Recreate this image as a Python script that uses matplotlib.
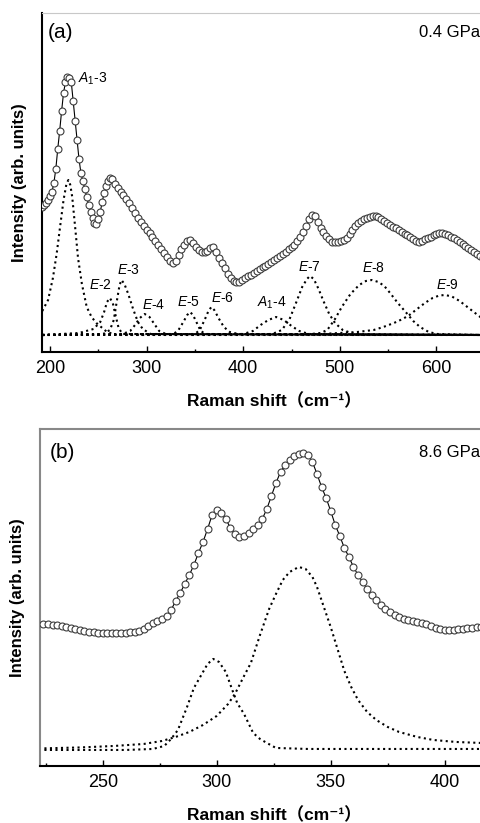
import matplotlib
matplotlib.use('Agg')
import matplotlib.pyplot as plt

plt.rcParams['font.family'] = ['Liberation Sans', 'Noto Sans CJK SC', 'DejaVu Sans']
plt.rcParams['mathtext.fontset'] = 'custom'
plt.rcParams['mathtext.rm'] = 'Liberation Sans'
plt.rcParams['mathtext.it'] = 'Liberation Sans:italic'

shift_a = [192, 194, 196, 198, 200, 202, 204, 206, 208, 210, 212, 214, 216, 218, 220, 222,
           224, 226, 228, 230, 232, 234, 236, 238, 240, 242, 244, 246, 248, 250, 252, 254,
           256, 258, 260, 262, 264,
           267, 270, 273, 276, 279, 282, 285, 288, 291, 294, 297, 300, 303, 306, 309, 312,
           315, 318, 321, 324, 327, 330, 333, 336, 339, 342, 345, 348, 351, 354, 357, 360,
           363, 366, 369, 372, 375, 378, 381, 384, 387, 390, 393, 396, 399, 402, 405, 408,
           411, 414, 417, 420, 423, 426, 429, 432, 435, 438, 441, 444, 447, 450, 453, 456,
           459, 462, 465, 468, 471, 474, 477, 480, 483, 486, 489, 492, 495, 498, 501, 504,
           507, 510, 513, 516, 519, 522, 525, 528, 531, 534, 537, 540, 543, 546, 549, 552,
           555, 558, 561, 564, 567, 570, 573, 576, 579, 582, 585, 588, 591, 594, 597, 600,
           603, 606, 609, 612, 615, 618, 621, 624, 627, 630, 633, 636, 639, 642, 645, 648]
int_a = [145, 147, 149, 152, 156, 160, 169, 183, 203, 221, 241, 259, 270, 275, 274, 270,
         251, 231, 212, 193, 179, 171, 163, 155, 147, 140, 134, 129, 128, 133, 140, 150,
         159, 166, 171, 174, 173,
         168, 164, 160, 157, 153, 149, 144, 139, 134, 130, 126, 122, 119, 115, 111, 107,
         103, 99, 95, 91, 89, 91, 97, 103, 107, 111, 112, 109, 105, 102, 100, 100,
         101, 104, 105, 100, 94, 89, 84, 78, 74, 71, 70, 70, 72, 74, 76, 77,
         79, 81, 83, 85, 86, 88, 90, 92, 94, 96, 98, 100, 103, 105, 107, 111,
         115, 120, 126, 133, 137, 136, 130, 124, 120, 116, 113, 110, 110, 110, 111, 112,
         114, 118, 122, 126, 129, 131, 133, 134, 135, 136, 136, 135, 133, 131, 129, 127,
         125, 124, 122, 120, 118, 117, 115, 113, 111, 110, 111, 113, 114, 115, 117, 118,
         119, 119, 118, 117, 115, 114, 112, 110, 108, 106, 104, 102, 100, 98, 96, 94]

# fitted components (a)
a13_x = [192, 198, 203, 207, 210, 214, 217, 219, 221, 223, 226, 229, 233, 238, 243, 248, 259, 269, 648]
a13_y = [41, 52, 74, 99, 122, 152, 168, 172, 167, 155, 125, 94, 68, 45, 35, 29, 20, 17, 17]
e2_x = [192, 230, 245, 252, 256, 259, 262, 265, 268, 271, 275, 648]
e2_y = [17, 19, 23, 30, 40, 50, 54, 49, 36, 24, 18, 17]
e3_x = [192, 255, 262, 266, 269, 272, 274, 277, 281, 286, 291, 296, 304, 648]
e3_y = [17, 18, 22, 32, 50, 67, 72, 68, 58, 43, 30, 23, 18, 17]
e4_x = [192, 275, 283, 288, 293, 298, 303, 308, 313, 320, 648]
e4_y = [17, 18, 21, 27, 34, 38, 35, 28, 21, 18, 17]
e5_x = [192, 328, 333, 338, 342, 345, 348, 352, 356, 361, 648]
e5_y = [17, 18, 22, 30, 37, 40, 37, 29, 21, 18, 17]
e6_x = [192, 350, 355, 360, 364, 367, 370, 375, 380, 386, 395, 648]
e6_y = [17, 18, 22, 32, 41, 45, 42, 33, 25, 20, 18, 17]
a14_x = [192, 400, 410, 418, 426, 434, 442, 450, 458, 468, 648]
a14_y = [17, 18, 21, 27, 32, 35, 32, 26, 21, 18, 17]
e7_x = [192, 430, 440, 448, 455, 461, 466, 469, 473, 478, 483, 489, 495, 503, 515, 648]
e7_y = [17, 18, 22, 33, 50, 65, 73, 76, 73, 63, 51, 38, 29, 22, 18, 17]
e8_x = [192, 470, 480, 487, 495, 502, 511, 520, 527, 533, 540, 546, 552, 560, 569, 576, 583, 592, 601, 648]
e8_y = [17, 18, 19, 22, 33, 45, 58, 67, 71, 72, 70, 66, 59, 49, 39, 31, 25, 20, 18, 17]
e9_x = [192, 450, 480, 500, 518, 535, 545, 556, 565, 572, 580, 588, 596, 603, 609, 616, 624, 632, 640, 648]
e9_y = [17, 17.5, 18, 19, 20, 22, 25, 29, 33, 37, 43, 49, 54, 56.5, 57, 55.5, 51, 45, 39, 33]

comps_a = [(a13_x, a13_y), (e2_x, e2_y), (e3_x, e3_y), (e4_x, e4_y), (e5_x, e5_y),
           (e6_x, e6_y), (a14_x, a14_y), (e7_x, e7_y), (e8_x, e8_y), (e9_x, e9_y)]
labels_a = [r'$A_1$-3', r'$E$-2', r'$E$-3', r'$E$-4', r'$E$-5', r'$E$-6', r'$A_1$-4', r'$E$-7', r'$E$-8', r'$E$-9']
label_x_a = [229, 252, 281, 307, 343, 379, 430, 469, 535, 611]
label_y_a = [273, 67, 82, 47, 50, 54, 49, 85, 84, 67]

# ---- panel (b): 8.6 GPa ----
shift_b = list(range(224, 418, 2))
int_b = [142, 142, 141, 141, 140, 139, 138, 137, 136, 135, 134, 134, 133, 133, 133, 133,
         133, 133, 133, 134, 134, 135, 137, 140, 143, 145, 147, 150, 156, 165, 173, 182,
         191, 201, 213, 224, 237, 251, 256, 253, 247, 238, 232, 229, 230, 233, 237, 241,
         247, 257, 270, 283, 294, 301, 306, 310, 312, 313, 311, 304, 292, 279, 268, 255,
         241, 230, 218, 209, 199, 191, 184, 177, 171, 166, 161, 157, 154, 151, 149, 147,
         146, 145, 144, 143, 142, 140, 138, 137, 136, 136, 136, 137, 137, 138, 138, 139,
         139]

p1_x = [222, 260, 272, 277, 280, 283, 287, 290, 293, 296, 298.5, 301, 304, 307, 309, 312, 316, 319, 322, 326, 340, 428]
p1_y = [16, 16, 17, 20, 27, 36, 59, 78, 90, 102, 107, 104, 94, 75, 63, 52, 33, 27, 23, 18, 17, 17]
p2_x = [222, 240, 255, 268, 276, 282, 288, 294, 300, 305, 308, 312, 315, 319, 323, 326, 329, 332, 336,
        339, 342, 344, 347, 350, 353, 356, 359, 362, 366, 370, 375, 380, 388, 395, 405, 416, 428]
p2_y = [17.5, 18.5, 20, 22, 25, 29, 34, 41, 50, 62, 72, 90, 103, 131, 157, 172, 186, 194, 199,
        197, 189, 179, 159, 139, 117, 95, 79, 66, 54, 46, 39, 34, 29, 26, 24, 23, 22]

fig = plt.figure(figsize=(4.81, 8.23), dpi=100)
ax1 = fig.add_axes([0.0873, 0.5723, 0.9647, 0.4119])
ax2 = fig.add_axes([0.0832, 0.0693, 0.973, 0.4095])

dot_kw = dict(color='black', linestyle=':', linewidth=1.5)
mk_kw = dict(linestyle='none', marker='o', markersize=5, markerfacecolor='white',
             markeredgecolor='#3c3c3c', markeredgewidth=0.8, zorder=3)

# (a)
for cx, cy in comps_a:
    ax1.plot(cx, cy, **dot_kw)
ax1.plot(shift_a, int_a, color='black', linewidth=0.8, zorder=2)
ax1.plot(shift_a, int_a, **mk_kw)
for lab, lx, ly in zip(labels_a, label_x_a, label_y_a):
    ha = 'left' if lab.endswith('-3') and 'A' in lab else 'center'
    ax1.text(lx, ly, lab, ha=ha, va='center', fontsize=10)
ax1.text(198, 320, '(a)', fontsize=15, va='center', ha='left')
ax1.text(645, 320, '0.4 GPa', fontsize=12, va='center', ha='right')
ax1.set_xlim(191.7, 672)
ax1.set_ylim(0, 339)
ax1.set_xticks([200, 300, 400, 500, 600])
ax1.set_xticks([250, 350, 450, 550, 650], minor=True)

# (b)
ax2.plot(p1_x, p1_y, **dot_kw)
ax2.plot(p2_x, p2_y, **dot_kw)
ax2.plot(shift_b, int_b, color='black', linewidth=0.8, zorder=2)
ax2.plot(shift_b, int_b, **mk_kw)
ax2.text(226.9, 313, '(b)', fontsize=15, va='center', ha='left')
ax2.text(415.5, 313, '8.6 GPa', fontsize=12, va='center', ha='right')
ax2.set_xlim(222.5, 427.8)
ax2.set_ylim(0, 337)
ax2.set_xticks([250, 300, 350, 400])
ax2.set_xticks([225, 275, 325, 375, 425], minor=True)

for ax in (ax1, ax2):
    ax.set_yticks([])
    ax.tick_params(axis='x', which='major', direction='in', length=4, width=1, labelsize=13, pad=6)
    ax.tick_params(axis='x', which='minor', direction='in', length=2.5, width=1)
    ax.set_xlabel('Raman shift（cm⁻¹）', fontsize=12.5, fontweight='bold', labelpad=11)
    ax.set_ylabel('Intensity (arb. units)', fontsize=12, fontweight='bold', labelpad=11)
    ax.spines['bottom'].set_linewidth(1.5)
    ax.spines['left'].set_linewidth(1.5)

ax1.spines['top'].set_color('#c8c8c8')
ax2.spines['top'].set_color('#888888')
ax2.spines['left'].set_color('#888888')
ax2.spines['top'].set_linewidth(1.5)

fig.savefig('out.png', dpi=100)
